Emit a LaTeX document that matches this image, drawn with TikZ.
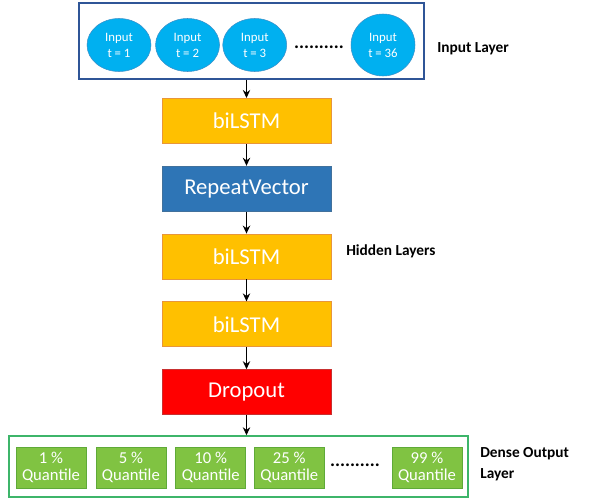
\documentclass[tikz,border=0pt]{standalone}
\usepackage{fontspec}
\setmainfont{Carlito}
\usetikzlibrary{positioning,arrows.meta,shapes.geometric}
\definecolor{inblue}{HTML}{00B0F0}
\definecolor{inedge}{HTML}{3A8FC8}
\definecolor{frameblue}{HTML}{2F5597}
\definecolor{lstmfill}{HTML}{FFC000}
\definecolor{lstmedge}{HTML}{E8963A}
\definecolor{repfill}{HTML}{2E75B6}
\definecolor{repedge}{HTML}{41719C}
\definecolor{dropfill}{HTML}{FF0000}
\definecolor{dropedge}{HTML}{C83030}
\definecolor{qfill}{HTML}{80C342}
\definecolor{qedge}{HTML}{5FAA38}
\definecolor{framegreen}{HTML}{3DB56A}
\begin{document}
\begin{tikzpicture}[x=0.75pt, y=-0.75pt, node distance = {16.5pt},
    inp/.style = {ellipse, draw=inedge, fill=inblue, text=white, align=center,
        minimum width=48pt, minimum height=39.75pt, inner sep=0pt,
        font=\fontsize{9.6}{12}\selectfont},
    layer/.style = {draw, line width=0.6pt, text=white, minimum width=126.75pt,
        minimum height=33.75pt, inner sep=0pt, font=\fontsize{17}{18}\selectfont},
    quant/.style = {draw=qedge, fill=qfill, text=white, align=center,
        minimum width=52.5pt, minimum height=30.75pt, inner sep=0pt,
        font=\fontsize{12.5}{12.5}\selectfont},
    lbl/.style = {anchor=west, inner sep=0pt, font=\fontsize{11.5}{15.75}\selectfont\bfseries},
    dotrow/.style = {inner sep=0pt, font=\fontsize{14}{14}\selectfont\bfseries},
    >={Stealth[length=6pt, width=5.5pt]}]
  \useasboundingbox (0,0) rectangle (602,500);

  % input layer
  \node[draw=frameblue, line width=1.1pt, minimum width=258.75pt, minimum height=57pt,
      inner sep=0pt] (inlayer) at (251.5,41) {};
  \node[inp] (in1) at (119,45) {Input\\t = 1};
  \node[inp] (in2) [right=3pt of in1] {Input\\t = 2};
  \node[inp] (in3) [right=2pt of in2] {Input\\t = 3};
  \node[dotrow] (indots) at (319,47) {..........};
  \node[inp, minimum height=46.5pt] (in4) at (383,45) {Input\\t = 36};
  \node[lbl] (inlbl) at (437,49) {Input Layer};

  % hidden layers
  \node[layer, draw=lstmedge, fill=lstmfill, anchor=north] (lstm1) at (246.5,98) {biLSTM};
  \node[layer, draw=repedge, fill=repfill] (rep) [below=of lstm1] {RepeatVector};
  \node[layer, draw=lstmedge, fill=lstmfill] (lstm2) [below=of rep] {biLSTM};
  \node[layer, draw=lstmedge, fill=lstmfill] (lstm3) [below=of lstm2] {biLSTM};
  \node[layer, draw=dropedge, fill=dropfill] (drop) [below=of lstm3] {Dropout};
  \node[lbl] (hidlbl) at (346,251) {Hidden Layers};

  % output layer
  \node[draw=framegreen, line width=1.1pt, minimum width=344.25pt, minimum height=45.75pt,
      inner sep=0pt] (outlayer) at (238.5,466.5) {};
  \node[quant] (q1) at (51,467.5) {1 \%\\Quantile};
  \node[quant] (q2) [right=7pt of q1] {5 \%\\Quantile};
  \node[quant] (q3) [right=7pt of q2] {10 \%\\Quantile};
  \node[quant] (q4) [right=6pt of q3] {25 \%\\Quantile};
  \node[dotrow] (outdots) at (355,465) {..........};
  \node[quant] (q5) at (427,467.5) {99 \%\\Quantile};
  \node[lbl, align=left] (outlbl) at (480,464.5) {Dense Output\\Layer};

  \draw[->, line width=1.4pt] (inlayer.south -| lstm1.north) -- (lstm1);
  \draw[->, line width=1.4pt] (lstm1) -- (rep);
  \draw[->, line width=1.4pt] (rep) -- (lstm2);
  \draw[->, line width=1.4pt] (lstm2) -- (lstm3);
  \draw[->, line width=1.4pt] (lstm3) -- (drop);
  \draw[->, line width=1.4pt] (drop) -- (outlayer.north -| drop.south);
\end{tikzpicture}
\end{document}
